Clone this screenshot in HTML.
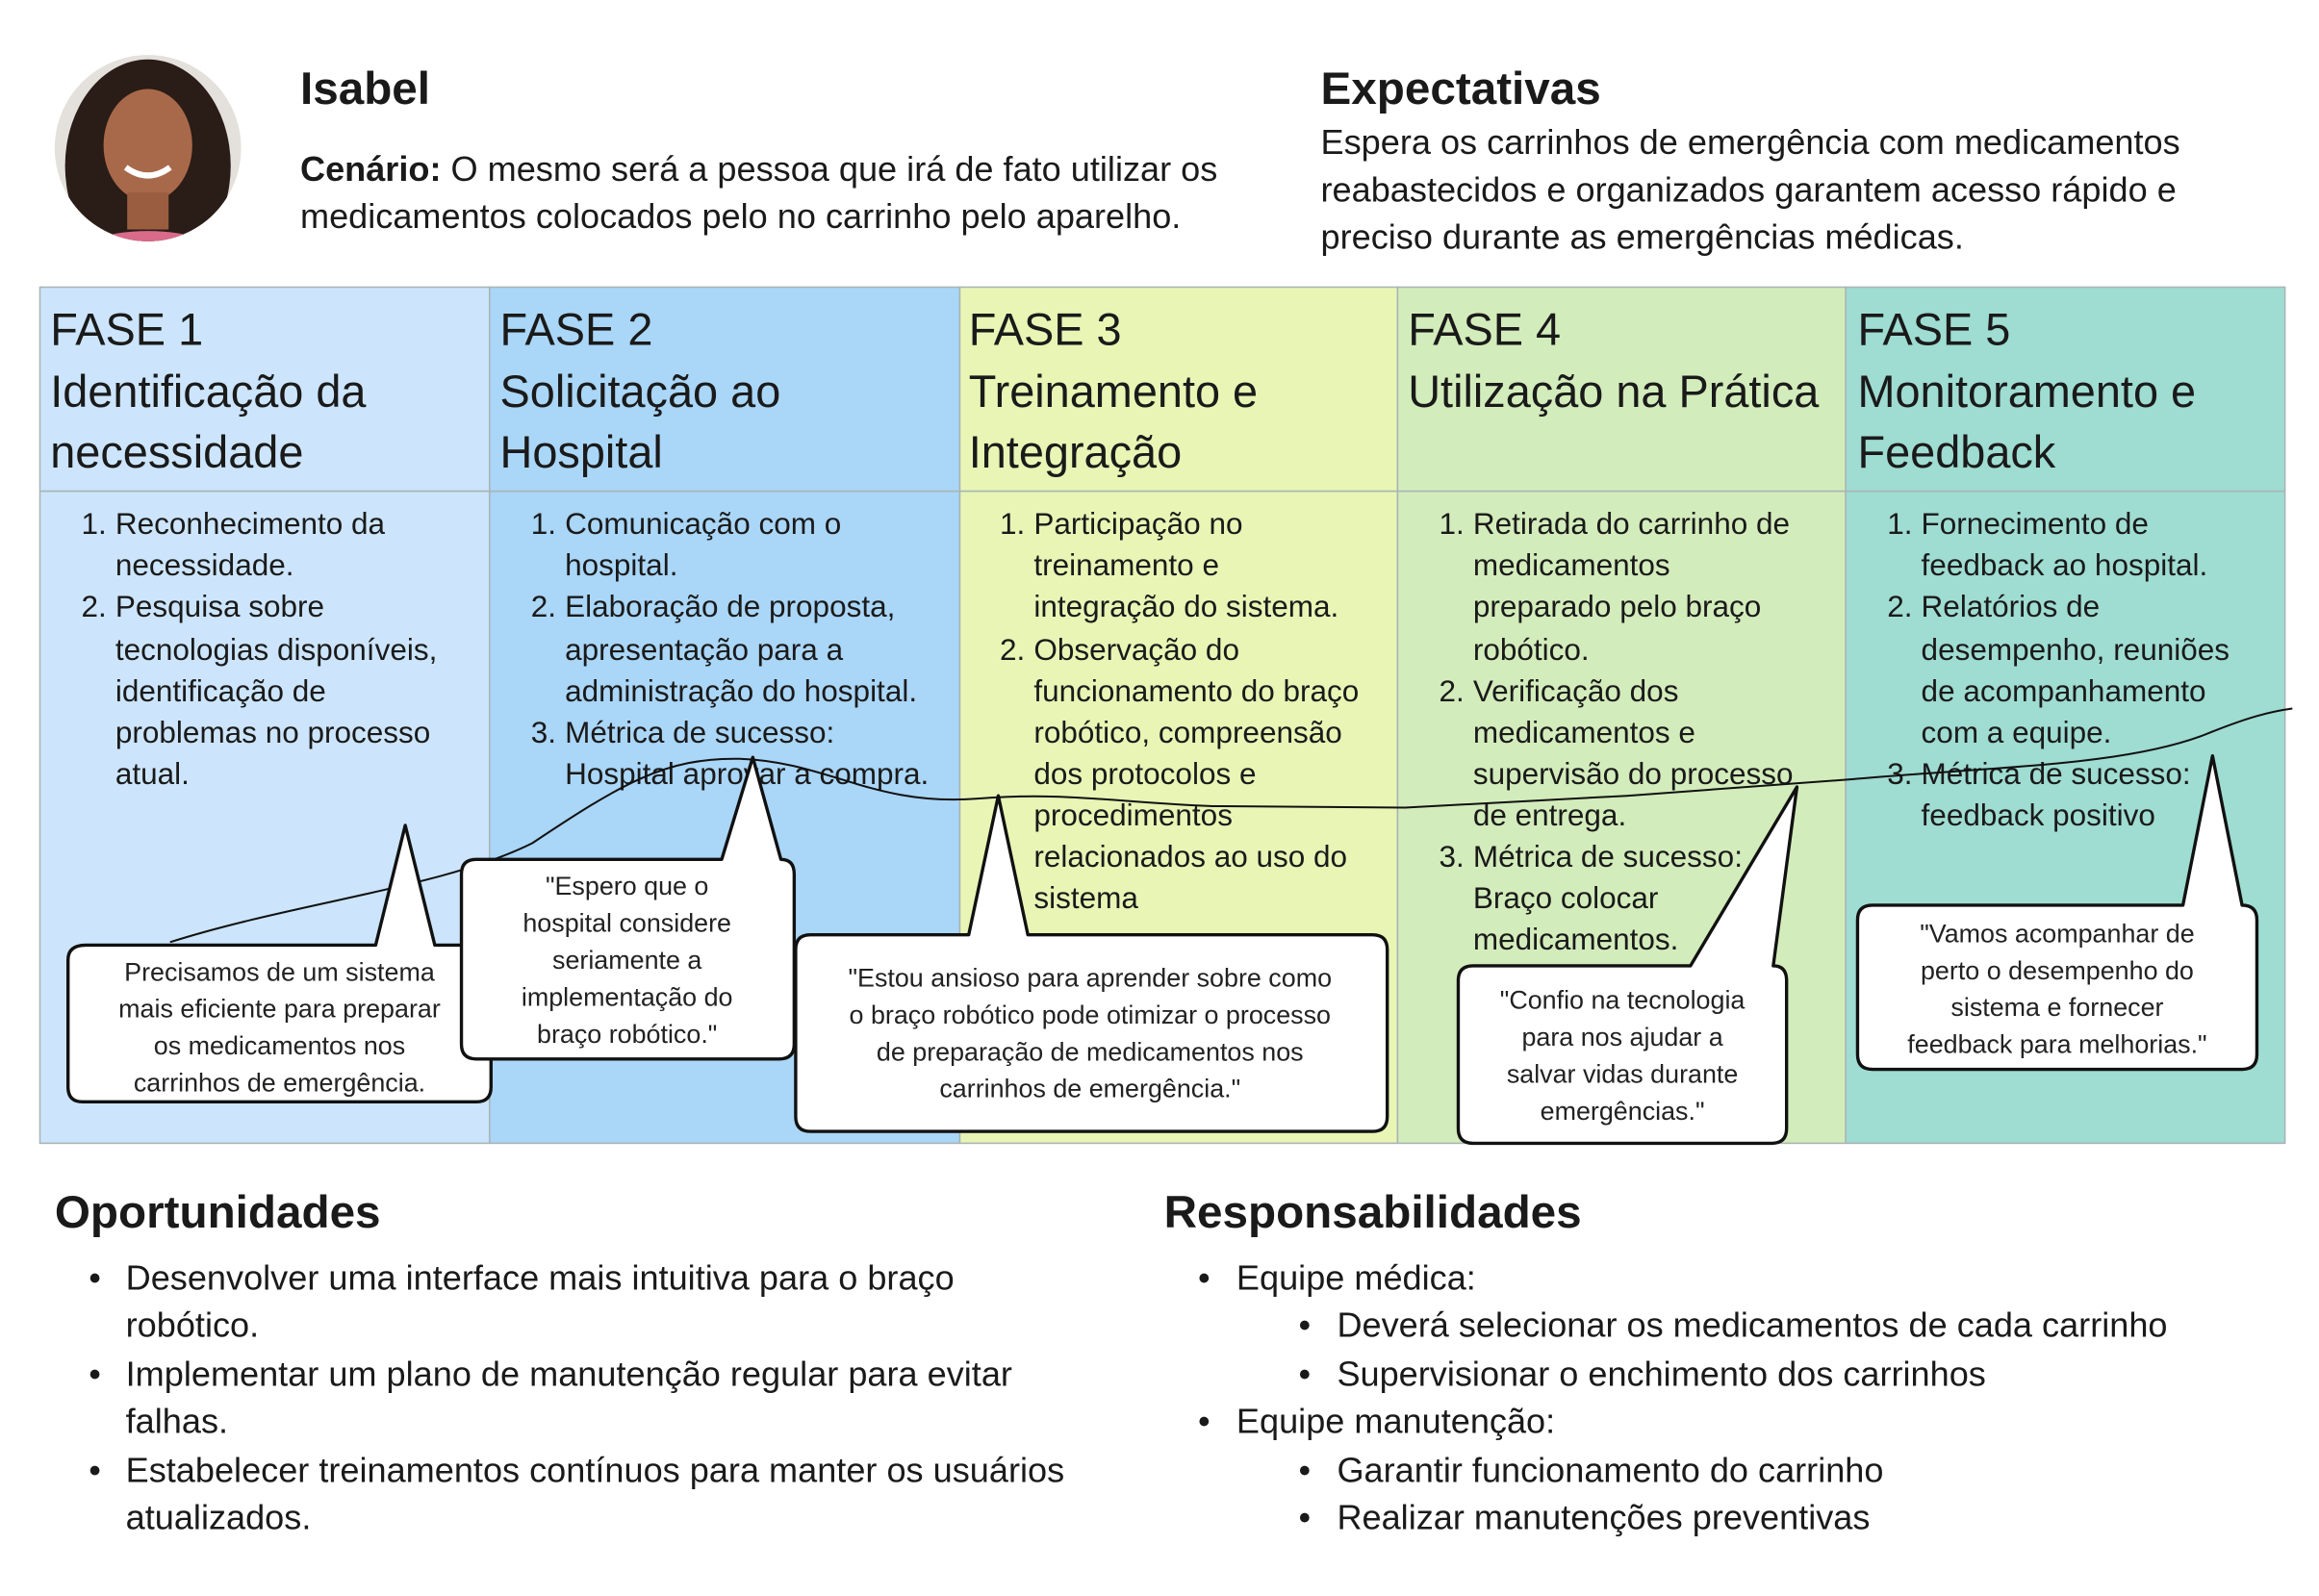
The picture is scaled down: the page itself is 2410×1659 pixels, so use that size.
<!DOCTYPE html>
<html><head><meta charset="utf-8"><style>
html,body{margin:0;padding:0;background:#fff}
svg{display:block}
text{font-family:"Liberation Sans",Arial,sans-serif;fill:#1a1a1a}
.h{font-size:30.5px}
.l{font-size:20.5px}
.c{font-size:17.5px;text-anchor:middle;fill:#222}
.t{font-size:23.5px}
.b{font-weight:bold}
</style></head><body>
<svg width="2410" height="1659" viewBox="0 0 1568 1079" xmlns="http://www.w3.org/2000/svg">
<rect width="1568" height="1079" fill="#fff"/>
<defs><clipPath id="cp"><circle cx="100" cy="100" r="63"/></clipPath></defs>
<g clip-path="url(#cp)">
<rect x="30" y="30" width="140" height="140" fill="#e4e0dc"/>
<ellipse cx="100" cy="112" rx="56" ry="72" fill="#2a1c16"/>
<ellipse cx="100" cy="98" rx="30" ry="38" fill="#a8694a"/>
<rect x="86" y="130" width="28" height="25" fill="#9a5d40"/>
<ellipse cx="100" cy="178" rx="55" ry="22" fill="#d86a8a"/>
<path d="M85 113 Q100 124 115 113" stroke="#fff" stroke-width="4" fill="none"/>
</g>
<text x="203" y="70" class="b" style="font-size:31px">Isabel</text>
<text x="203" y="122" class="t"><tspan class="b">Cenário:</tspan> O mesmo será a pessoa que irá de fato utilizar os</text>
<text x="203" y="154" class="t">medicamentos colocados pelo no carrinho pelo aparelho.</text>
<text x="893" y="70" class="b" style="font-size:31px">Expectativas</text>
<text x="893" y="104" class="t">Espera os carrinhos de emergência com medicamentos</text>
<text x="893" y="136" class="t">reabastecidos e organizados garantem acesso rápido e</text>
<text x="893" y="168" class="t">preciso durante as emergências médicas.</text>

<g stroke="#a9b4b4" stroke-width="1">
<rect x="27" y="194" width="304" height="579" fill="#cce5fc"/>
<rect x="331" y="194" width="318" height="579" fill="#aad6f7"/>
<rect x="649" y="194" width="296" height="579" fill="#e8f5b5"/>
<rect x="945" y="194" width="303" height="579" fill="#d3ecbb"/>
<rect x="1248" y="194" width="297" height="579" fill="#9fdcd2"/>
<line x1="27" y1="332" x2="1545" y2="332"/>
</g>
<text x="34" y="233" class="h">FASE 1</text><text x="34" y="275" class="h">Identificação da</text><text x="34" y="316" class="h">necessidade</text>
<text x="338" y="233" class="h">FASE 2</text><text x="338" y="275" class="h">Solicitação ao</text><text x="338" y="316" class="h">Hospital</text>
<text x="655" y="233" class="h">FASE 3</text><text x="655" y="275" class="h">Treinamento e</text><text x="655" y="316" class="h">Integração</text>
<text x="952" y="233" class="h">FASE 4</text><text x="952" y="275" class="h">Utilização na Prática</text>
<text x="1256" y="233" class="h">FASE 5</text><text x="1256" y="275" class="h">Monitoramento e</text><text x="1256" y="316" class="h">Feedback</text>

<text x="55" y="361" class="l">1.</text><text x="78" y="361" class="l">Reconhecimento da</text>
<text x="78" y="389" class="l">necessidade.</text>
<text x="55" y="417" class="l">2.</text><text x="78" y="417" class="l">Pesquisa sobre</text>
<text x="78" y="446" class="l">tecnologias disponíveis,</text>
<text x="78" y="474" class="l">identificação de</text>
<text x="78" y="502" class="l">problemas no processo</text>
<text x="78" y="530" class="l">atual.</text>

<text x="359" y="361" class="l">1.</text><text x="382" y="361" class="l">Comunicação com o</text>
<text x="382" y="389" class="l">hospital.</text>
<text x="359" y="417" class="l">2.</text><text x="382" y="417" class="l">Elaboração de proposta,</text>
<text x="382" y="446" class="l">apresentação para a</text>
<text x="382" y="474" class="l">administração do hospital.</text>
<text x="359" y="502" class="l">3.</text><text x="382" y="502" class="l">Métrica de sucesso:</text>
<text x="382" y="530" class="l">Hospital aprovar a compra.</text>

<text x="676" y="361" class="l">1.</text><text x="699" y="361" class="l">Participação no</text>
<text x="699" y="389" class="l">treinamento e</text>
<text x="699" y="417" class="l">integração do sistema.</text>
<text x="676" y="446" class="l">2.</text><text x="699" y="446" class="l">Observação do</text>
<text x="699" y="474" class="l">funcionamento do braço</text>
<text x="699" y="502" class="l">robótico, compreensão</text>
<text x="699" y="530" class="l">dos protocolos e</text>
<text x="699" y="558" class="l">procedimentos</text>
<text x="699" y="586" class="l">relacionados ao uso do</text>
<text x="699" y="614" class="l">sistema</text>

<text x="973" y="361" class="l">1.</text><text x="996" y="361" class="l">Retirada do carrinho de</text>
<text x="996" y="389" class="l">medicamentos</text>
<text x="996" y="417" class="l">preparado pelo braço</text>
<text x="996" y="446" class="l">robótico.</text>
<text x="973" y="474" class="l">2.</text><text x="996" y="474" class="l">Verificação dos</text>
<text x="996" y="502" class="l">medicamentos e</text>
<text x="996" y="530" class="l">supervisão do processo</text>
<text x="996" y="558" class="l">de entrega.</text>
<text x="973" y="586" class="l">3.</text><text x="996" y="586" class="l">Métrica de sucesso:</text>
<text x="996" y="614" class="l">Braço colocar</text>
<text x="996" y="642" class="l">medicamentos.</text>

<text x="1276" y="361" class="l">1.</text><text x="1299" y="361" class="l">Fornecimento de</text>
<text x="1299" y="389" class="l">feedback ao hospital.</text>
<text x="1276" y="417" class="l">2.</text><text x="1299" y="417" class="l">Relatórios de</text>
<text x="1299" y="446" class="l">desempenho, reuniões</text>
<text x="1299" y="474" class="l">de acompanhamento</text>
<text x="1299" y="502" class="l">com a equipe.</text>
<text x="1276" y="530" class="l">3.</text><text x="1299" y="530" class="l">Métrica de sucesso:</text>
<text x="1299" y="558" class="l">feedback positivo</text>

<path d="M115,637 C200,610 300,600 360,570 C420,530 450,512 500,513 C560,515 590,545 660,540 C720,535 760,543 820,545 L950,546 L1100,538 L1250,527 C1350,518 1440,518 1495,495 C1520,485 1535,481 1550,479" fill="none" stroke="#111" stroke-width="1.3"/>

<g fill="#fff" stroke="#111" stroke-width="2.2" stroke-linejoin="round">
<path d="M58,639 L254,639 L274,558 L294,639 L322,639 Q332,639 332,649 L332,735 Q332,745 322,745 L56,745 Q46,745 46,735 L46,649 Q46,639 58,639 Z"/>
<path d="M322,581 L488,581 L509,512 L528,581 Q537,581 537,591 L537,706 Q537,716 527,716 L322,716 Q312,716 312,706 L312,591 Q312,581 322,581 Z"/>
<path d="M548,632 L655,632 L675,538 L695,632 L928,632 Q938,632 938,642 L938,755 Q938,765 928,765 L548,765 Q538,765 538,755 L538,642 Q538,632 548,632 Z"/>
<path d="M996,653 L1143,653 L1215,532 L1199,653 Q1208,653 1208,663 L1208,763 Q1208,773 1198,773 L996,773 Q986,773 986,763 L986,663 Q986,653 996,653 Z"/>
<path d="M1266,612 L1476,612 L1496,511 L1516,612 Q1526,612 1526,622 L1526,713 Q1526,723 1516,723 L1266,723 Q1256,723 1256,713 L1256,622 Q1256,612 1266,612 Z"/>
</g>
<text x="189" y="663" class="c">Precisamos de um sistema</text>
<text x="189" y="688" class="c">mais eficiente para preparar</text>
<text x="189" y="713" class="c">os medicamentos nos</text>
<text x="189" y="738" class="c">carrinhos de emergência.</text>
<text x="424" y="605" class="c">"Espero que o</text>
<text x="424" y="630" class="c">hospital considere</text>
<text x="424" y="655" class="c">seriamente a</text>
<text x="424" y="680" class="c">implementação do</text>
<text x="424" y="705" class="c">braço robótico."</text>
<text x="737" y="667" class="c">"Estou ansioso para aprender sobre como</text>
<text x="737" y="692" class="c">o braço robótico pode otimizar o processo</text>
<text x="737" y="717" class="c">de preparação de medicamentos nos</text>
<text x="737" y="742" class="c">carrinhos de emergência."</text>
<text x="1097" y="682" class="c">"Confio na tecnologia</text>
<text x="1097" y="707" class="c">para nos ajudar a</text>
<text x="1097" y="732" class="c">salvar vidas durante</text>
<text x="1097" y="757" class="c">emergências."</text>
<text x="1391" y="637" class="c">"Vamos acompanhar de</text>
<text x="1391" y="662" class="c">perto o desempenho do</text>
<text x="1391" y="687" class="c">sistema e fornecer</text>
<text x="1391" y="712" class="c">feedback para melhorias."</text>

<text x="37" y="830" class="b" style="font-size:31px">Oportunidades</text>
<text x="60" y="872" class="t">•</text><text x="85" y="872" class="t">Desenvolver uma interface mais intuitiva para o braço</text>
<text x="85" y="904" class="t">robótico.</text>
<text x="60" y="937" class="t">•</text><text x="85" y="937" class="t">Implementar um plano de manutenção regular para evitar</text>
<text x="85" y="969" class="t">falhas.</text>
<text x="60" y="1002" class="t">•</text><text x="85" y="1002" class="t">Estabelecer treinamentos contínuos para manter os usuários</text>
<text x="85" y="1034" class="t">atualizados.</text>
<text x="787" y="830" class="b" style="font-size:31px">Responsabilidades</text>
<text x="810" y="872" class="t">•</text><text x="836" y="872" class="t">Equipe médica:</text>
<text x="878" y="904" class="t">•</text><text x="904" y="904" class="t">Deverá selecionar os medicamentos de cada carrinho</text>
<text x="878" y="937" class="t">•</text><text x="904" y="937" class="t">Supervisionar o enchimento dos carrinhos</text>
<text x="810" y="969" class="t">•</text><text x="836" y="969" class="t">Equipe manutenção:</text>
<text x="878" y="1002" class="t">•</text><text x="904" y="1002" class="t">Garantir funcionamento do carrinho</text>
<text x="878" y="1034" class="t">•</text><text x="904" y="1034" class="t">Realizar manutenções preventivas</text>
</svg>
</body></html>
